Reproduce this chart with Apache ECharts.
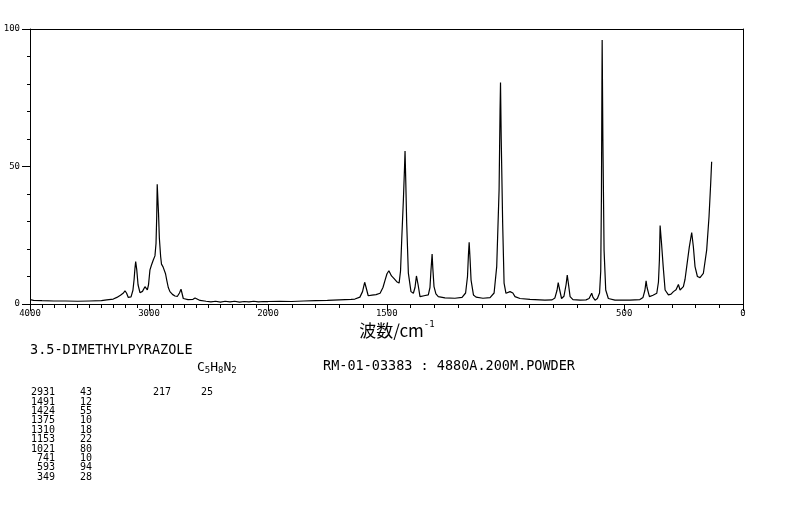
<!DOCTYPE html>
<html><head><meta charset="utf-8">
<script src="https://cdn.jsdelivr.net/npm/echarts@6/dist/echarts.min.js"></script>
<style>html,body{margin:0;padding:0;background:#fff}#c{width:794px;height:510px}</style>
</head><body><div id="c"></div>
<script>
// Raman spectrum, 4000-2000 cm-1 part (compressed scale)
const highWn=[4000,3985,3970,3900,3800,3700,3600,3500,3400,3355,3300,3270,3240,3215,3202,3189,3174,3151,3135,3125,3118,3112,3103,3092,3076,3055,3034,3014,3004,2992,2979,2964,2950,2941,2935,2931,2926,2920,2913,2902,2895,2882,2870,2861,2851,2838,2824,2803,2782,2761,2744,2731,2723,2712,2672,2630,2613,2597,2571,2520,2480,2440,2400,2360,2320,2280,2240,2200,2160,2120,2080,2040,2000];
const highInt=[1.6,1.6,1.3,1.2,1.1,1.1,1.0,1.1,1.2,1.5,1.8,2.4,3.2,4.0,4.8,4.0,2.4,2.6,5.0,9.0,13.0,15.4,12.5,7.0,4.1,4.6,6.3,5.1,7.0,12.4,14.2,16.0,17.5,22.0,32.0,43.5,43.5,33.0,24.0,17.2,14.5,13.5,13.8,11.0,8.7,6.0,4.5,3.5,2.9,2.8,4.0,5.4,4.0,2.0,1.6,1.7,2.2,1.6,1.3,1.0,0.8,1.0,0.7,1.0,0.8,1.0,0.7,0.9,0.8,1.0,0.8,0.9,0.9];
// 2000-0 cm-1 part
const lowWn=[2000,1950,1900,1850,1800,1750,1700,1650,1634,1613,1602,1593,1587,1578,1562,1545,1528,1516,1507,1499,1491,1480,1469,1458,1448,1442,1437,1430,1425,1423,1420,1416,1409,1398,1388,1381,1375,1368,1360,1343,1325,1318,1314,1309,1306,1301,1293,1283,1255,1213,1183,1168,1160,1156,1153,1149,1145,1135,1124,1095,1065,1048,1037,1027,1023,1021,1018,1012,1006,998,990,981,974,969,960,939,897,834,804,792,783,778,774,764,754,745,740,736,728,716,686,661,648,637,632,623,613,604,599,596,594,593,590,585,578,567,539,476,434,421,413,408,404,394,379,363,356,352,349,346,343,336,328,314,303,293,282,272,265,251,244,237,226,216,209,202,192,181,167,153,143,136,132];
const lowInt=[0.9,1.0,0.9,1.1,1.2,1.3,1.5,1.7,1.8,2.5,4.5,7.9,6.0,3.0,3.2,3.4,3.9,6.0,8.7,11.0,12.1,10.2,9.2,8.1,7.6,12.0,23.3,37.8,50.0,55.6,45.0,29.4,11.2,4.5,3.9,6.0,10.2,7.0,2.7,3.0,3.3,6.0,12.0,18.2,13.0,6.3,3.7,2.7,2.2,2.1,2.4,4.0,10.0,18.0,22.4,16.0,8.7,3.3,2.5,2.1,2.3,4.0,13.6,41.5,70.0,80.5,60.0,29.5,7.6,3.9,3.8,4.5,5.1,4.0,2.7,2.0,1.7,1.4,1.5,2.2,5.0,7.8,6.0,2.0,2.8,7.0,10.5,8.0,2.7,1.6,1.4,1.5,2.0,3.9,2.5,1.4,2.0,4.0,12.0,40.0,80.0,96.0,60.0,19.6,5.1,2.0,1.4,1.4,1.6,2.4,5.0,8.4,6.0,2.7,3.2,3.9,8.0,16.0,28.5,28.0,22.0,13.6,5.1,3.3,3.6,4.5,5.2,7.1,5.1,6.3,9.0,13.6,20.8,26.0,20.8,13.6,10.0,9.6,11.1,19.6,31.8,43.9,51.7];
// peak table
const peakWn=[2931,1491,1424,1375,1310,1153,1021,741,593,349];
const peakInt=[43,12,55,10,18,22,80,10,94,28];
const peak2Wn=[217];
const peak2Int=[25];
// tick labels
const yTickLabels=[0,50,100];
const xHighLabels=[4000,3000,2000];
const xLowLabels=[1500,500,0];
const compoundName='3.5-DIMETHYLPYRAZOLE';
const formulaParts=[['C','5'],['H','8'],['N','2']];
const sampleInfo='RM-01-03383 : 4880A.200M.POWDER';
const xAxisTitle='波数/cm';

const MONO='"DejaVu Sans Mono", "Liberation Mono", monospace';
const black='#000';
const lbl={color:black,fontFamily:MONO,fontSize:9};

const chart=echarts.init(document.getElementById('c'),null,{renderer:'canvas'});
const lineOnly={show:true,onZero:false,lineStyle:{color:black,width:1}};
const option={
  animation:false,
  backgroundColor:'#fff',
  grid:[
    {left:30,top:29,width:238,height:275,containLabel:false},
    {left:268,top:29,width:475,height:275,containLabel:false}
  ],
  xAxis:[
    {type:'value',gridIndex:0,position:'bottom',min:2000,max:4000,inverse:true,interval:1000,
     axisLine:lineOnly,
     axisTick:{show:true,inside:false,length:7,lineStyle:{color:black}},
     minorTick:{show:true,splitNumber:10,length:4,lineStyle:{color:black}},
     splitLine:{show:false},minorSplitLine:{show:false},
     axisLabel:Object.assign({margin:5,showMinLabel:true,showMaxLabel:true,
       formatter:v=>xHighLabels.indexOf(v)>=0?String(v):''},lbl)},
    {type:'value',gridIndex:0,position:'top',min:2000,max:4000,inverse:true,
     axisLine:lineOnly,axisTick:{show:false},axisLabel:{show:false},splitLine:{show:false}},
    {type:'value',gridIndex:1,position:'bottom',min:0,max:2000,inverse:true,interval:100,
     axisLine:lineOnly,
     axisTick:{show:true,inside:false,length:4,lineStyle:{color:black}},
     axisLabel:{show:false},splitLine:{show:false}},
    {type:'value',gridIndex:1,position:'bottom',min:0,max:2000,inverse:true,
     axisLine:{show:false,onZero:false},
     axisTick:{show:true,inside:false,length:7,customValues:xLowLabels,lineStyle:{color:black}},
     axisLabel:Object.assign({margin:5,customValues:xLowLabels,formatter:v=>String(v)},lbl),
     splitLine:{show:false}},
    {type:'value',gridIndex:1,position:'top',min:0,max:2000,inverse:true,
     axisLine:lineOnly,axisTick:{show:false},axisLabel:{show:false},splitLine:{show:false}}
  ],
  yAxis:[
    {type:'value',gridIndex:0,position:'left',min:0,max:100,interval:50,
     axisLine:lineOnly,
     axisTick:{show:true,inside:false,length:8,lineStyle:{color:black}},
     minorTick:{show:true,splitNumber:5,length:3,lineStyle:{color:black}},
     splitLine:{show:false},minorSplitLine:{show:false},
     axisLabel:Object.assign({margin:10,formatter:v=>yTickLabels.indexOf(v)>=0?String(v):''},lbl)},
    {type:'value',gridIndex:1,position:'right',min:0,max:100,
     axisLine:lineOnly,axisTick:{show:false},axisLabel:{show:false},splitLine:{show:false}}
  ],
  series:[
    {type:'line',xAxisIndex:0,yAxisIndex:0,showSymbol:false,symbol:'none',
     lineStyle:{color:black,width:1.2},data:highWn.map((w,i)=>[w,highInt[i]])},
    {type:'line',xAxisIndex:2,yAxisIndex:1,showSymbol:false,symbol:'none',
     lineStyle:{color:black,width:1.2},data:lowWn.map((w,i)=>[w,lowInt[i]])}
  ],
  graphic:[
    {type:'text',left:'center',top:320,style:{text:xAxisTitle+'{sup|-1}',fill:black,
      font:'17px "Noto Sans CJK JP", "Noto Sans CJK SC", sans-serif',
      rich:{sup:{fontSize:9,fontFamily:MONO,fill:black,verticalAlign:'top',lineHeight:22}}}},
    {type:'text',x:30,y:343,style:{text:compoundName,fill:black,font:'13.5px '+MONO}},
    {type:'text',x:197,y:360,style:{
      text:formulaParts.map(p=>p[0]+'{sub|'+p[1]+'}').join(''),fill:black,font:'13px '+MONO,
      rich:{sub:{fontSize:9,fontFamily:MONO,fill:black,padding:[6,0,0,0]}}}},
    {type:'text',x:323,y:359,style:{text:sampleInfo,fill:black,font:'13.5px '+MONO}},
    {type:'text',x:55,y:388,style:{text:peakWn.join('\n'),fill:black,font:'10px '+MONO,
      textAlign:'right',lineHeight:9.4}},
    {type:'text',x:92,y:388,style:{text:peakInt.join('\n'),fill:black,font:'10px '+MONO,
      textAlign:'right',lineHeight:9.4}},
    {type:'text',x:171,y:388,style:{text:peak2Wn.join('\n'),fill:black,font:'10px '+MONO,
      textAlign:'right',lineHeight:9.4}},
    {type:'text',x:213,y:388,style:{text:peak2Int.join('\n'),fill:black,font:'10px '+MONO,
      textAlign:'right',lineHeight:9.4}}
  ]
};
chart.setOption(option);
</script></body></html>
